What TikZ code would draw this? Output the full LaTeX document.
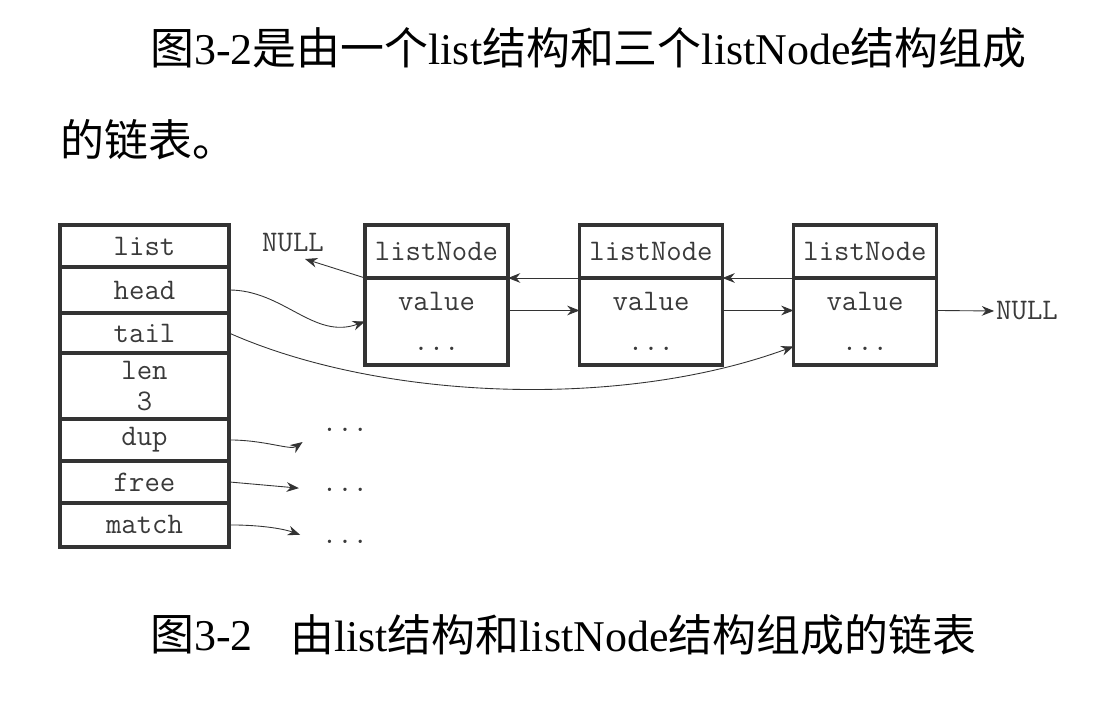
\documentclass[tikz,border=0pt]{standalone}
\usepackage{fontspec}
\setmainfont{Liberation Serif}
\newfontfamily\cjk{Noto Sans CJK SC}
\usetikzlibrary{positioning,arrows.meta}
\newcommand{\hz}[1]{{\cjk #1}}
\definecolor{tinta}{HTML}{333333}
\definecolor{letra}{HTML}{3A3A3A}

\begin{document}
\begin{tikzpicture}[
        x=0.02cm, y=-0.02cm,
        campo/.style={shape=rectangle, draw=tinta, line width=1.9pt, outer sep=0pt,
            minimum width=3.38cm, align=center, text=letra,
            font=\ttfamily\fontsize{17}{18}\selectfont},
        cabeca/.style={shape=rectangle, draw=tinta, line width=1.9pt, outer sep=0pt,
            minimum width=2.86cm, minimum height=1.06cm, text=letra,
            font=\ttfamily\fontsize{17}{18}\selectfont},
        corpo/.style={shape=rectangle, draw=tinta, line width=1.9pt, outer sep=0pt,
            minimum width=2.86cm, minimum height=1.74cm, align=center, text=letra,
            font=\ttfamily\fontsize{17}{19}\selectfont},
        rotulo/.style={text=letra, inner sep=1pt, font=\ttfamily\fontsize{17}{18}\selectfont},
        texto/.style={anchor=west, inner sep=0pt, text=black, font=\fontsize{25}{30}\selectfont},
        legenda/.style={anchor=west, inner sep=0pt, text=black, font=\fontsize{25}{29}\selectfont},
        seta/.style={draw=tinta, line width=0.5pt, -{Stealth[length=7pt, width=5.5pt]}},
    ]
    \useasboundingbox (0,0) rectangle (1110,722);

    \node[texto] (frase1) at (150,48) {\hz{图}3-2\hz{是由一个}list\hz{结构和三个}listNode\hz{结构组成}};
    \node[texto] (frase2) at (60,140) {\hz{的链表。}};

    \node[campo, minimum height=0.84cm] (list) at (144.5,246) {list};
    \node[campo, minimum height=0.92cm, below=0pt of list] (head) {head};
    \node[campo, minimum height=0.80cm, below=0pt of head] (tail) {tail};
    \node[campo, minimum height=1.32cm, below=0pt of tail] (len) {len\\3};
    \node[campo, minimum height=0.84cm, below=0pt of len] (dup) {dup};
    \node[campo, minimum height=0.84cm, below=0pt of dup] (free) {free};
    \node[campo, minimum height=0.88cm, below=0pt of free] (match) {match};

    \node[cabeca] (h1) at (436.5,251.5) {listNode};
    \node[corpo, below=0pt of h1] (b1) {value\\[4pt]...};
    \node[cabeca] (h2) at (651,251.5) {listNode};
    \node[corpo, below=0pt of h2] (b2) {value\\[4pt]...};
    \node[cabeca] (h3) at (865,251.5) {listNode};
    \node[corpo, below=0pt of h3] (b3) {value\\[4pt]...};

    \node[rotulo] (nulo1) at (293,243) {NULL};
    \node[rotulo] (nulo2) at (1027,311) {NULL};
    \coordinate (pnulo) at (305,259);

    \node[rotulo] (r1) at (345,430) {...};
    \node[rotulo] (r2) at (345,490) {...};
    \node[rotulo] (r3) at (345,542) {...};

    \draw[seta] (h1.south west) -- (pnulo);
    \draw[seta] (h2.south west) -- (h1.south east);
    \draw[seta] (h3.south west) -- (h2.south east);
    \draw[seta] ([yshift=0.22cm]b1.east) -- ([yshift=0.22cm]b2.west);
    \draw[seta] ([yshift=0.22cm]b2.east) -- ([yshift=0.22cm]b3.west);
    \draw[seta] ([yshift=0.22cm]b3.east) -- (nulo2.west);

    \draw[seta] (head.east) to[out=0, in=200] (b1.west);
    \draw[seta] (tail.east) .. controls (380,400) and (620,410) .. ([yshift=-0.5cm]b3.west);
    \draw[seta, shorten >=0.42cm] (dup.east) to[out=0, in=215] (r1.west);
    \draw[seta, shorten >=0.42cm] (free.east) -- (r2.west);
    \draw[seta, shorten >=0.42cm] (match.east) to[out=0, in=160] (r3.west);

    \node[legenda] (leg1) at (150,635) {\hz{图}3-2};
    \node[legenda] (leg2) at (290,635) {\hz{由}list\hz{结构和}listNode\hz{结构组成的链表}};
\end{tikzpicture}
\end{document}
